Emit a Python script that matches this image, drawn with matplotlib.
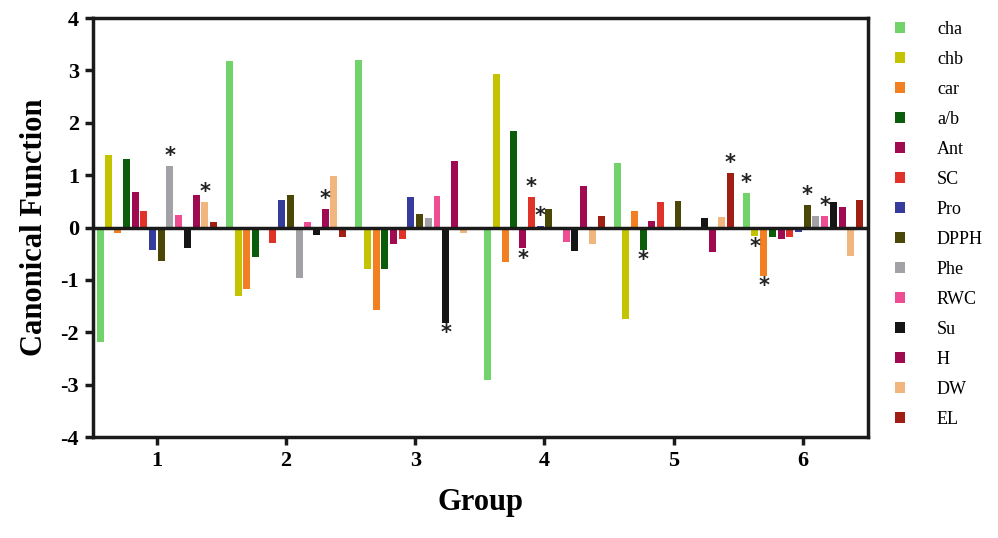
import matplotlib
matplotlib.use("Agg")
import matplotlib.pyplot as plt
import numpy as np

plt.rcParams['font.family'] = ['Liberation Serif', 'DejaVu Serif']
plt.rcParams['axes.unicode_minus'] = False

groups = [1, 2, 3, 4, 5, 6]
series = ["cha", "chb", "car", "a/b", "Ant", "SC", "Pro", "DPPH", "Phe", "RWC", "Su", "H", "DW", "EL"]
colors = ["#72D36B", "#C3C300", "#F27F22", "#0B5C0B", "#A00A50", "#E03228", "#353C9C",
          "#4B4707", "#A2A2A6", "#EE4C93", "#151515", "#A00A50", "#F1B67D", "#A01E14"]

# values[group][series]
g1 = [-2.18, 1.39, -0.11, 1.31, 0.68, 0.32, -0.42, -0.63, 1.18, 0.24, -0.40, 0.62, 0.49, 0.11]
g2 = [3.17, -1.30, -1.17, -0.57, -0.04, -0.29, 0.53, 0.62, -0.96, 0.11, -0.15, 0.36, 0.99, -0.19]
g3 = [3.20, -0.80, -1.57, -0.80, -0.32, -0.21, 0.59, 0.26, 0.19, 0.61, -1.82, 1.27, -0.11, 0.0]
g4 = [-2.92, 2.94, -0.65, 1.85, -0.40, 0.59, 0.03, 0.36, 0.0, -0.27, -0.44, 0.80, -0.32, 0.22]
g5 = [1.24, -1.74, 0.32, -0.42, 0.13, 0.49, 0.0, 0.51, 0.0, 0.0, 0.19, -0.46, 0.20, 1.05]
g6 = [0.66, -0.17, -0.92, -0.19, -0.21, -0.19, -0.08, 0.43, 0.22, 0.22, 0.49, 0.40, -0.55, 0.53]
values = [g1, g2, g3, g4, g5, g6]

# significance marks: (group, series name)
stars = [(1, "Phe"), (1, "DW"), (2, "H"), (3, "Su"), (4, "Ant"), (4, "SC"), (4, "Pro"),
         (5, "a/b"), (5, "EL"), (6, "cha"), (6, "chb"), (6, "car"), (6, "DPPH"), (6, "RWC")]

y_ticks = [4, 3, 2, 1, 0, -1, -2, -3, -4]
y_ticklabels = ["4", "3", "2", "1", "0", "-1", "-2", "-3", "-4"]

fig = plt.figure(figsize=(9.98, 5.38), dpi=100)
ax = fig.add_axes([0.0932, 0.1877, 0.7765, 0.7788])

step = 0.0674
width = 0.054
n = len(series)
vals = np.array(values)
for i, (name, col) in enumerate(zip(series, colors)):
    x = np.array(groups) + (i - (n - 1) / 2) * step
    ax.bar(x, vals[:, i], width=width, color=col, label=name, zorder=2)

for g, name in stars:
    i = series.index(name)
    v = values[g - 1][i]
    x = g + (i - (n - 1) / 2) * step
    dy = 7 if v >= 0 else -7.5
    ax.annotate("*", (x, v), xytext=(0, dy), textcoords="offset points",
                ha="center", va="center", fontsize=15, fontweight="bold",
                fontfamily="DejaVu Sans", color="#222222")

ax.axhline(0, color="#1a1a1a", lw=2.5, zorder=3)
ax.set_xlim(0.506, 6.504)
ax.set_ylim(-4, 4)
ax.set_xticks(groups)
ax.set_xticklabels([str(g) for g in groups], fontsize=16, fontweight="bold")
ax.set_yticks(y_ticks)
ax.set_yticklabels(y_ticklabels, fontsize=16, fontweight="bold")
for s in ax.spines.values():
    s.set_linewidth(2.5)
    s.set_color("#1a1a1a")
ax.tick_params(axis="both", direction="out", length=6, width=2.5, color="#1a1a1a", pad=4)
ax.set_ylabel("Canonical Function", fontsize=22, fontweight="bold", labelpad=8)
ax.set_xlabel("Group", fontsize=22, fontweight="bold", labelpad=12)

leg = ax.legend(loc="upper left", bbox_to_anchor=(1.025, 1.01), frameon=False,
                fontsize=13, handlelength=0.6, handleheight=0.6, handletextpad=1.75,
                labelspacing=0.72, borderaxespad=0.0)

fig.savefig("out.png", dpi=100)
